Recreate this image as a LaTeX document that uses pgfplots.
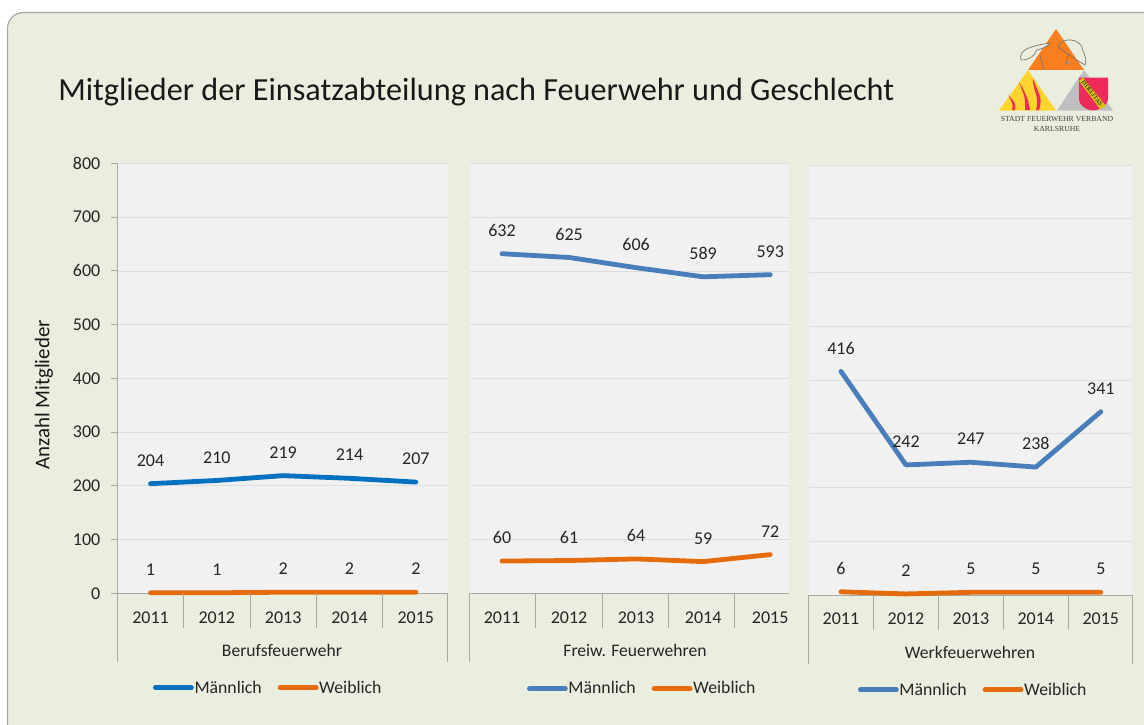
\documentclass[border=0pt]{standalone}
\usepackage{fontspec}
\setmainfont{Carlito}
\newfontfamily\serifsmall{Liberation Serif}
\usepackage{pgfplots}
\pgfplotsset{compat=1.18}
\definecolor{cardbg}{HTML}{EAEEDE}
\definecolor{panelbg}{HTML}{F1F1F1}
\definecolor{gridc}{HTML}{DEDEDE}
\definecolor{axc}{HTML}{A8A8A4}
\definecolor{txt}{HTML}{262626}
\definecolor{blueA}{HTML}{0070C0}
\definecolor{blueB}{HTML}{4A7EBB}
\definecolor{oran}{HTML}{E46C0A}
\definecolor{logoO}{HTML}{F97E20}
\definecolor{logoY}{HTML}{FFD52E}
\definecolor{logoR}{HTML}{EE2A5B}
\definecolor{logoB}{HTML}{D8C410}
\tikzset{sepline/.style={axc,line width=0.7pt}}
\pgfplotsset{
  /pgf/number format/assume math mode=true,
  panel/.style={
    scale only axis, clip=false,
    ymin=0, ymax=800, ytick={0,100,...,800},
    ymajorgrids, grid style={gridc,line width=0.6pt},
    axis background/.style={fill=panelbg},
    axis x line=bottom, axis y line=left,
    x axis line style={-,axc,line width=0.7pt},
    y axis line style={-,axc,line width=0.7pt},
    xtick={1,2,3,4,5}, xticklabels={2011,2012,2013,2014,2015},
    xtick style={draw=none},
    ytick style={axc,line width=0.7pt},
    tick align=outside, major tick length=4.5pt,
    tick label style={font=\fontsize{13.5}{15}\selectfont,text=txt},
    xticklabel style={anchor=center,yshift=-13.5pt},
    yticklabel style={xshift=-4.5pt},
    every axis x label/.style={anchor=center,font=\fontsize{13.2}{15}\selectfont,text=txt},
    legend cell align=left,
    legend columns=2,
    legend image code/.code={\draw[##1,mark=none,line width=3.6pt] (0pt,0pt) -- (27pt,0pt);},
    legend style={draw=none,fill=none,anchor=west,inner sep=0pt,outer sep=0pt,
      font=\fontsize{13.3}{15}\selectfont,text=txt,
      nodes={inner xsep=0.5pt,inner ysep=0pt},
      /tikz/every even column/.append style={column sep=11.5pt}},
    nodes near coords,
    every node near coord/.style={anchor=center,yshift=17.4pt,
      font=\fontsize{13.5}{15}\selectfont,text=txt},
  },
  ser/.style={#1,line width=3.6pt,line cap=round,line join=round,mark=none},
  noy/.style={y axis line style={draw=none},ytick style={draw=none},yticklabels={}},
}
\newcommand{\onesep}[1]{\draw[sepline] (axis cs:#1,0) -- ([yshift=-26pt]axis cs:#1,0);}
\newcommand{\seps}[4]{\onesep{#1}\onesep{#2}\onesep{#3}\onesep{#4}}
\newcommand{\edge}[1]{\draw[sepline] (axis description cs:#1,0) -- ([yshift=-51.5pt]axis description cs:#1,0);}
\begin{document}
\begin{tikzpicture}[x=0.75pt,y=-0.75pt]
\useasboundingbox (0,0) rectangle (1144,724);
\clip (0,0) rectangle (1144,724);
\fill[white] (0,0) rectangle (1144,724);
\coordinate (pa) at (117,593.3);
\coordinate (pb) at (469.5,593.3);
\coordinate (pc) at (808.5,595);
\draw[fill=cardbg,draw=axc,line width=0.9pt,rounded corners=12pt] (7.5,12.5) rectangle (1175,750);
\node[anchor=base west,inner sep=0pt,font=\fontsize{24.15}{28}\selectfont,text=black!90] at (58,100.5) {Mitglieder der Einsatzabteilung nach Feuerwehr und Geschlecht};
\node[rotate=90,anchor=center,inner sep=0pt,font=\fontsize{15.7}{18}\selectfont,text=black!90] at (44,395) {Anzahl Mitglieder};
% logo
\fill[logoO] (1056,29) -- (1084,70) -- (1028,70) -- cycle;
\fill[logoY] (1028,70) -- (1056,110.5) -- (999,110.5) -- cycle;
\fill[black!25] (1084,70) -- (1113,110.5) -- (1057,110.5) -- cycle;
\draw[black!55,line width=0.5pt,fill=cardbg] (1021,60) .. controls (1018,50) and (1030,46) .. (1050,43) .. controls (1046,48) and (1040,49) .. (1037,50) .. controls (1034,56) and (1030,60) .. (1021,60);
\draw[black!55,line width=0.5pt] (1058,47) .. controls (1062,36) and (1082,38) .. (1083,51) .. controls (1085,56) and (1087,60) .. (1085,65) .. controls (1080,62) and (1070,56) .. (1058,47);
\draw[black!55,line width=0.5pt] (1040,55) -- (1044,70);
\draw[black!55,line width=0.5pt] (1068,55) -- (1066,65);
\fill[logoR] (1019,82) .. controls (1022,92) and (1026,94) .. (1025,110) -- (1030,110) .. controls (1028,98) and (1025,92) .. (1019,82);
\fill[logoR] (1033,78) .. controls (1032,90) and (1040,95) .. (1036,110) -- (1039,110) .. controls (1044,96) and (1036,90) .. (1033,78);
\fill[logoR] (1008,95) .. controls (1010,100) and (1014,102) .. (1012,110) -- (1015,110) .. controls (1017,102) and (1012,100) .. (1008,95);
\fill[logoR] (1079,77.5) -- (1108,77.5) -- (1108,98) .. controls (1108,106) and (1100,110) .. (1093,110.5) .. controls (1086,110) and (1079,106) .. (1079,98) -- cycle;
\fill[logoB] (1079,81) -- (1083,77.5) -- (1106,106) -- (1100,109) -- cycle;
\node[rotate=-53,inner sep=0pt,font=\serifsmall\fontsize{4.6}{5}\selectfont,text=black] at (1092,93) {FIDELITAS};
\node[inner sep=0pt,font=\serifsmall\fontsize{5.8}{6}\selectfont,text=black!75] at (1057,118.5) {STADT FEUERWEHR VERBAND};
\node[inner sep=0pt,font=\serifsmall\fontsize{5.8}{6}\selectfont,text=black!75] at (1057,129) {KARLSRUHE};
% panel 1
\begin{axis}[panel, at={(pa)}, anchor=south west,
  width=248.0pt, height=322.4pt,
  xmin=0.495, xmax=5.48, xlabel={Berufsfeuerwehr},
  x label style={at={(axis description cs:0.499,-0.132)}},
  legend style={at={(0.109,-0.22)}}]
\addplot[ser=blueA] coordinates {(1,204)(2,210)(3,219)(4,214)(5,207)};
\addplot[ser=oran] coordinates {(1,1)(2,1)(3,2)(4,2)(5,2)};
\legend{Männlich,Weiblich}
\seps{1.5}{2.5}{3.5}{4.5}
\edge{0}\edge{1}
\end{axis}
% panel 2
\begin{axis}[panel, noy, at={(pb)}, anchor=south west,
  width=239.6pt, height=322.4pt,
  xmin=0.515, xmax=5.28, xlabel={Freiw. Feuerwehren},
  x label style={at={(axis description cs:0.518,-0.133)}},
  legend style={at={(0.18,-0.222)}}]
\addplot[ser=blueB] coordinates {(1,632)(2,625)(3,606)(4,589)(5,593)};
\addplot[ser=oran] coordinates {(1,60)(2,61)(3,64)(4,59)(5,72)};
\legend{Männlich,Weiblich}
\seps{1.5}{2.495}{3.485}{4.465}
\edge{0}
\end{axis}
% panel 3
\begin{axis}[panel, noy, at={(pc)}, anchor=south west,
  width=242.6pt, height=322.5pt,
  xmin=0.5, xmax=5.48, xlabel={Werkfeuerwehren},
  x label style={at={(axis description cs:0.499,-0.134)}},
  legend style={at={(0.153,-0.2206)}}]
\addplot[ser=blueB] coordinates {(1,416)(2,242)(3,247)(4,238)(5,341)};
\addplot[ser=oran] coordinates {(1,6)(2,2)(3,5)(4,5)(5,5)};
\legend{Männlich,Weiblich}
\seps{1.5}{2.5}{3.5}{4.5}
\edge{0}\edge{1}
\end{axis}
\end{tikzpicture}
\end{document}
